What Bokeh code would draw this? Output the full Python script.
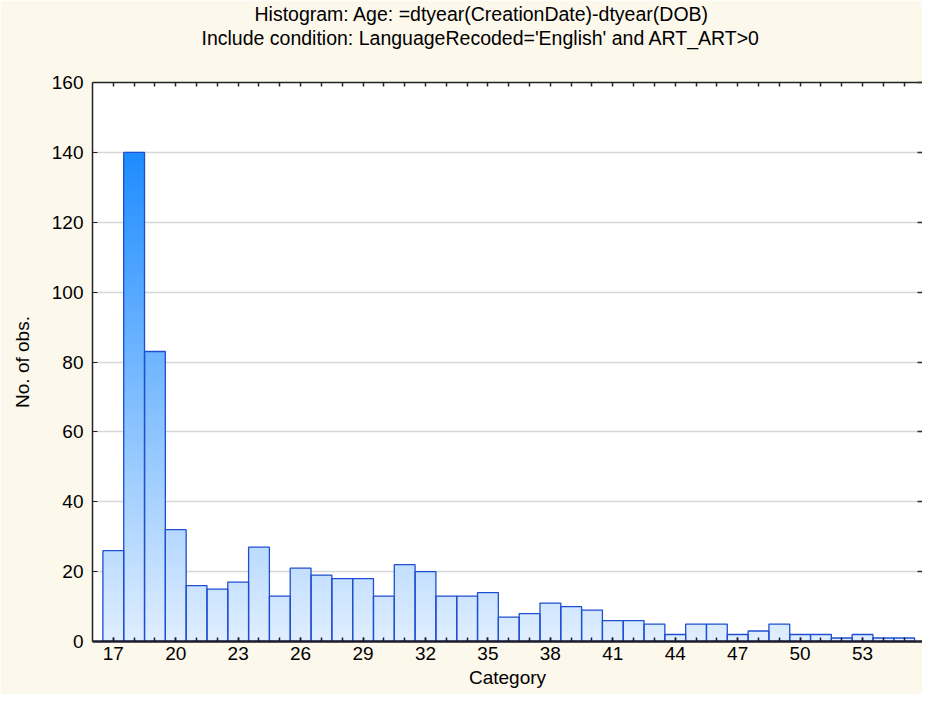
from bokeh.plotting import figure
from bokeh.models import Range1d, FixedTicker, LinearAxis, Title, ColumnDataSource
from bokeh.embed import file_html
from bokeh.resources import INLINE

# ---- data ----
categories = list(range(17, 56))
counts = [26, 140, 83, 32, 16, 15, 17, 27, 13, 21, 19, 18, 18, 13, 22, 20, 13, 13, 14,
          7, 8, 11, 10, 9, 6, 6, 5, 2, 5, 5, 2, 3, 5, 2, 2, 1, 2, 1, 1]
x_tick_values = list(range(17, 54, 3))
y_tick_values = list(range(0, 161, 20))
title_line1 = "Histogram: Age: =dtyear(CreationDate)-dtyear(DOB)"
title_line2 = "Include condition: LanguageRecoded='English' and ART_ART>0"
x_label = "Category"
y_label = "No. of obs."

FONT = "Liberation Sans"
BG = "#FDF8EC"
X_START, X_END = 16, 55.88

p = figure(width=922, height=694, output_backend="svg", toolbar_location=None,
           x_range=Range1d(X_START, X_END), y_range=Range1d(0, 160),
           min_border_left=92, min_border_right=0, min_border_top=82, min_border_bottom=53)
p.background_fill_color = "white"
p.border_fill_color = BG
p.outline_line_color = None


def grad_color(v):
    t = min(max(v / 140.0, 0.0), 1.0)
    r = int(round(224 + (30 - 224) * t))
    g = int(round(238 + (140 - 238) * t))
    b = 255
    return "#%02x%02x%02x" % (r, g, b)


# gradient fill: overlapping slices from the baseline, tallest first
slices = []
for c, v in zip(categories, counts):
    k = 0
    while k < v:
        top = min(k + 1, v)
        slices.append((top, c, grad_color(k + 0.5)))
        k += 1
slices.sort(key=lambda s: -s[0])
grad_src = ColumnDataSource(dict(left=[s[1] - 0.5 for s in slices],
                                 right=[s[1] + 0.5 for s in slices],
                                 top=[s[0] for s in slices],
                                 bottom=[0] * len(slices),
                                 color=[s[2] for s in slices]))
p.quad(left="left", right="right", top="top", bottom="bottom", fill_color="color",
       line_color=None, source=grad_src)

bar_src = ColumnDataSource(dict(left=[c - 0.5 for c in categories],
                                right=[c + 0.5 for c in categories],
                                top=counts, bottom=[0] * len(counts)))
p.quad(left="left", right="right", top="top", bottom="bottom", fill_color=None,
       line_color="#1f4fd0", line_width=1.3, source=bar_src)

# grid
p.xgrid.visible = False
p.ygrid.ticker = FixedTicker(ticks=y_tick_values)
p.ygrid.grid_line_color = "#d6d6d6"
p.ygrid.grid_line_width = 1.5
p.ygrid.level = "underlay"

# bottom axis
xa = p.xaxis[0]
xa.ticker = FixedTicker(ticks=x_tick_values, minor_ticks=categories)
xa.major_tick_in = 4
xa.major_tick_out = 0
xa.minor_tick_in = 4
xa.minor_tick_out = 0
xa.major_tick_line_color = "#1b1b2b"
xa.minor_tick_line_color = "#1b1b2b"
xa.major_tick_line_width = 1.5
xa.minor_tick_line_width = 1.5
xa.axis_line_color = "#1b1b2b"
xa.axis_line_width = 2.5
xa.major_label_standoff = 5
xa.major_label_text_font = FONT
xa.major_label_text_font_size = "19px"
xa.major_label_text_color = "black"
xa.axis_label = x_label
xa.axis_label_text_font = FONT
xa.axis_label_text_font_size = "19px"
xa.axis_label_text_font_style = "normal"
xa.axis_label_text_color = "black"
xa.axis_label_standoff = 4

# left axis
ya = p.yaxis[0]
ya.ticker = FixedTicker(ticks=y_tick_values)
ya.major_tick_in = 5
ya.major_tick_out = 0
ya.minor_tick_in = 0
ya.minor_tick_out = 0
ya.major_tick_line_color = "#222222"
ya.axis_line_color = "#222222"
ya.axis_line_width = 1.5
ya.major_label_standoff = 9
ya.major_label_text_font = FONT
ya.major_label_text_font_size = "19px"
ya.major_label_text_color = "black"
ya.axis_label = y_label
ya.axis_label_text_font = FONT
ya.axis_label_text_font_size = "19px"
ya.axis_label_text_font_style = "normal"
ya.axis_label_text_color = "black"
ya.axis_label_standoff = 16

# top axis: minor ticks at every category; one invisible, unlabeled major tick
# at the range start reserves the gap between the plot and the titles
top_axis = LinearAxis(ticker=FixedTicker(ticks=[X_START], minor_ticks=categories),
                      minor_tick_in=4, minor_tick_out=0, major_tick_in=0, major_tick_out=34,
                      major_tick_line_color=None, major_label_standoff=0,
                      major_label_overrides={X_START: ""},
                      major_label_text_font_size="0px",
                      minor_tick_line_color="#222222", minor_tick_line_width=1.5,
                      axis_line_color="#222222", axis_line_width=1.5)
p.add_layout(top_axis, "above")

# right axis: ticks only
right_axis = LinearAxis(ticker=FixedTicker(ticks=[], minor_ticks=y_tick_values),
                        minor_tick_in=5, minor_tick_out=0, major_tick_in=0, major_tick_out=0,
                        minor_tick_line_color="#333333", minor_tick_line_width=1.5,
                        axis_line_color=None)
p.add_layout(right_axis, "right")

# titles: second line nearest the plot, first line above it
p.add_layout(Title(text=title_line2, align="left", offset=109, standoff=0,
                   text_font=FONT, text_font_size="19.5px", text_font_style="normal",
                   text_color="black"), "above")
p.add_layout(Title(text=title_line1, align="left", offset=162, standoff=0,
                   text_font=FONT, text_font_size="19.5px", text_font_style="normal",
                   text_color="black"), "above")

open("out.html", "w").write(file_html(p, INLINE))
